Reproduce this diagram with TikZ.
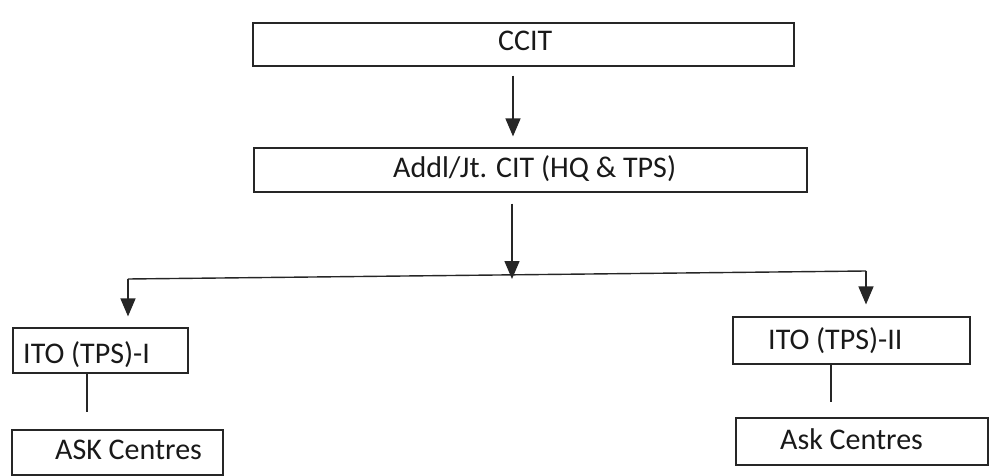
\documentclass[tikz,border=0pt]{standalone}
\usepackage{fontspec}
\setmainfont{Carlito}
\usetikzlibrary{arrows.meta}
\begin{document}
\begin{tikzpicture}[x=1pt,y=-1pt,
  box/.style={draw=black!85,line width=1.1pt,rectangle,inner sep=0pt},
  lbl/.style={anchor=base west,inner sep=0pt,font=\fontsize{30}{32}\selectfont,text=black!90},
  arr/.style={line width=1.4pt,draw=black!85,-{Triangle[length=18pt,width=15pt]}},
  ln/.style={line width=1.4pt,draw=black!85}]
\useasboundingbox (0,0) rectangle (989,476);
% boxes
\node[box,minimum width=541pt,minimum height=43pt] (ccit) at (523.5,44.5) {};
\node[box,minimum width=553pt,minimum height=44pt] (addl) at (530.5,170) {};
\node[box,minimum width=175pt,minimum height=45pt] (ito1) at (100.5,350.5) {};
\node[box,minimum width=211pt,minimum height=45pt] (ask1) at (117.5,452.5) {};
\node[box,minimum width=237pt,minimum height=47pt] (ito2) at (851.5,340.5) {};
\node[box,minimum width=252pt,minimum height=47pt] (ask2) at (862,441.5) {};
% labels
\node[lbl] (tccit) at (498,51) {CCIT};
\node[lbl] (taddl) at (393,178) {Addl/Jt. CIT (HQ \& TPS)};
\node[lbl] (tito1) at (23,363) {ITO (TPS)-I};
\node[lbl] (task1) at (55,459) {ASK Centres};
\node[lbl] (tito2) at (768,349) {ITO (TPS)-II};
\node[lbl] (task2) at (780,449) {Ask Centres};
% connector coordinates
\coordinate (x1) at (513,0);
\coordinate (x2) at (512,0);
\coordinate (bl) at (128,279);
\coordinate (br) at (866,271);
\coordinate (v1) at (87,0);
\coordinate (v2) at (831,0);
% connectors
\draw[arr,shorten <=9pt,shorten >=11pt] (ccit.south -| x1) -- (addl.north -| x1);
\draw[arr,shorten <=11pt] (addl.south -| x2) -- (x2 |- bl);
\draw[ln] (bl) -- (br);
\draw[arr,shorten >=11pt] (bl) -- (ito1.north -| bl);
\draw[arr,shorten >=12pt] (br) -- (ito2.north -| br);
\draw[ln,shorten >=17pt] (ito1.south -| v1) -- (ask1.north -| v1);
\draw[ln,shorten >=15pt] (ito2.south -| v2) -- (ask2.north -| v2);
\end{tikzpicture}
\end{document}
